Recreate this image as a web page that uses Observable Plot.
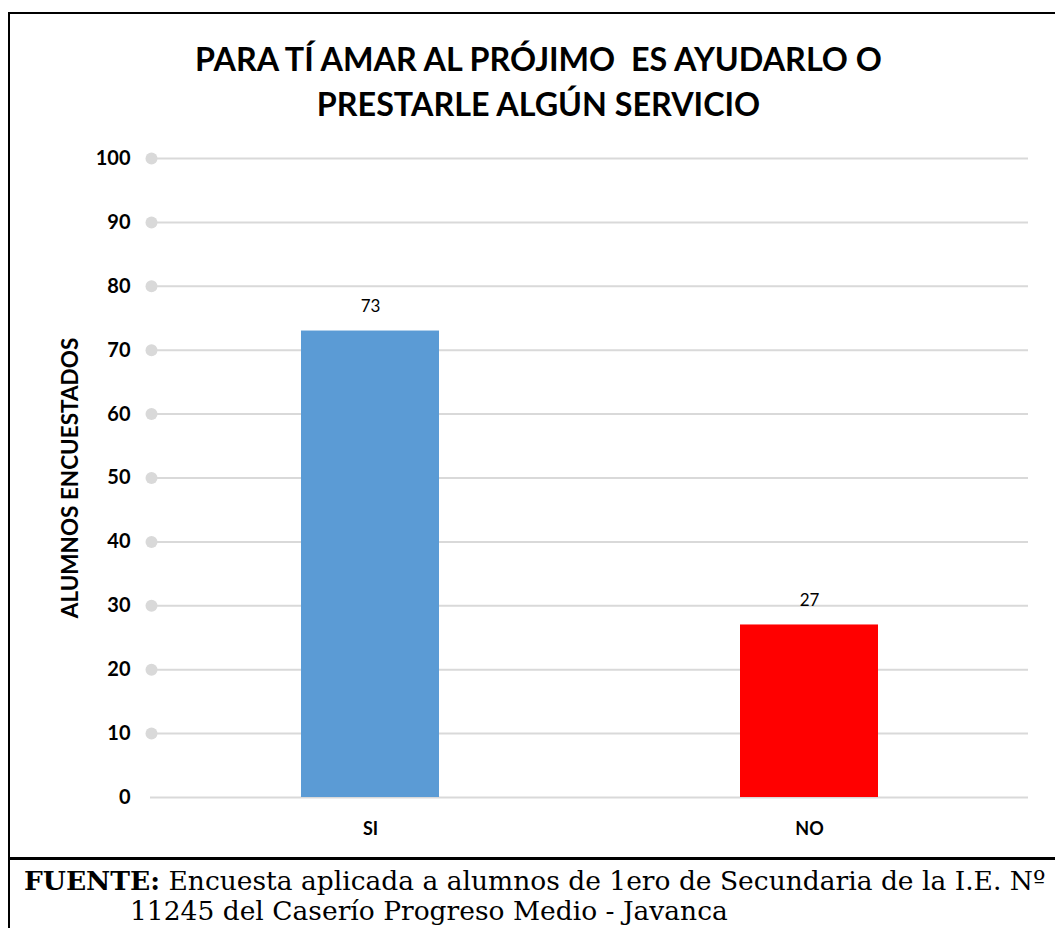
<!DOCTYPE html>
<html><head><meta charset="utf-8">
<script src="https://cdn.jsdelivr.net/npm/d3@7"></script>
<script src="https://cdn.jsdelivr.net/npm/@observablehq/plot@0.6"></script>
<style>
body{margin:0;background:#fff;}
#wrap{position:relative;width:1055px;height:928px;overflow:hidden;font-family:Lato,"Open Sans",sans-serif;}
#title{position:absolute;left:0;width:1077px;top:36px;text-align:center;font-weight:bold;font-size:32.3px;line-height:45px;color:#000;}
#chart{position:absolute;left:0;top:140px;}
.bl{position:absolute;background:#000;}
#cap{position:absolute;left:24px;top:866px;width:1031px;font-family:"DejaVu Serif","Liberation Serif",serif;font-size:26.5px;line-height:30px;color:#000;white-space:nowrap;}
</style></head>
<body><div id="wrap">
<div class="bl" style="left:8px;top:12px;width:1047px;height:2px"></div>
<div class="bl" style="left:8px;top:12px;width:2px;height:916px"></div>
<div class="bl" style="left:8px;top:857px;width:1047px;height:3px"></div>
<div id="title">PARA TÍ AMAR AL PRÓJIMO&nbsp; ES AYUDARLO O<br>PRESTARLE ALGÚN SERVICIO</div>
<div id="chart"></div>
<div id="cap"><b>FUENTE:</b> Encuesta aplicada a alumnos de 1ero de Secundaria de la I.E. Nº<br><span style="padding-left:106px">11245 del Caserío Progreso Medio - Javanca</span></div>
</div>
<script>
const categories = ["SI", "NO"];
const values = [73, 27];
const colors = ["#5b9bd5", "#ff0000"];
const yTicks = [0, 10, 20, 30, 40, 50, 60, 70, 80, 90, 100];
const yLabel = "ALUMNOS ENCUESTADOS";

const data = categories.map((c, i) => ({cat: c, val: values[i], color: colors[i]}));

const chart = Plot.plot({
  width: 1055,
  height: 718,
  marginLeft: 150,
  marginRight: 27,
  marginTop: 18,
  marginBottom: 61,
  style: {fontFamily: "Lato, 'Open Sans', sans-serif", color: "#000"},
  x: {domain: categories, paddingInner: 0.686, paddingOuter: 0.343},
  y: {domain: [0, 100]},
  marks: [
    Plot.ruleY(yTicks, {stroke: "#d9d9d9", strokeWidth: 2}),
    Plot.dot(yTicks.filter(d => d > 0), {y: d => d, frameAnchor: "left", dx: 1, r: 6, fill: "#d9d9d9", stroke: "none"}),
    Plot.barY(data, {x: "cat", y: "val", fill: "color"}),
    Plot.text(data, {x: "cat", y: "val", text: d => String(d.val), dy: -24, fontSize: 17, fill: "#000"}),
    Plot.axisY({ticks: yTicks, tickSize: 0, tickPadding: 20, fontSize: 20, fontWeight: "bold", label: null}),
    Plot.text([yLabel], {text: d => d, frameAnchor: "left", textAnchor: "middle", dx: -80, rotate: -90, fontSize: 22.5, fontWeight: "bold", fill: "#000"}),
    Plot.axisX({tickSize: 0, tickPadding: 25, fontSize: 18, fontWeight: "bold", label: null})
  ]
});
document.getElementById("chart").appendChild(chart);
</script>
</body></html>
